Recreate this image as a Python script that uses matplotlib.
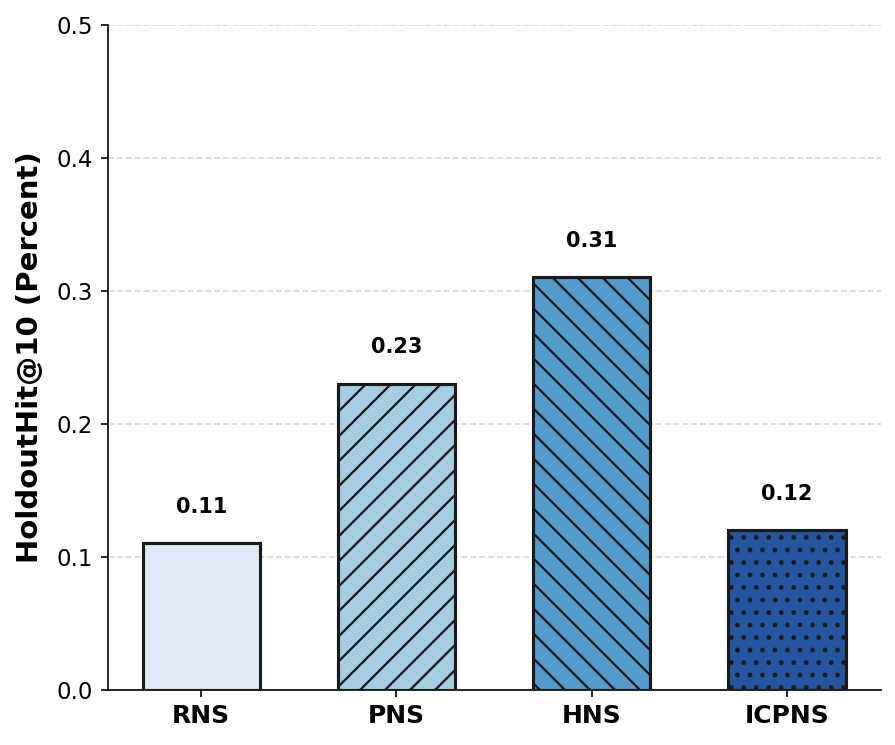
import matplotlib
matplotlib.use("Agg")
import matplotlib.pyplot as plt

categories = ["RNS", "PNS", "HNS", "ICPNS"]
values = [0.11, 0.23, 0.31, 0.12]
colors = ["#deebf7", "#a6cee3", "#529dcc", "#2455a0"]
hatches = ["", "//", "\\\\", ".."]

plt.rcParams['hatch.linewidth'] = 1.1
fig, ax = plt.subplots(figsize=(5.973, 4.967), dpi=150)
x = range(len(categories))
bars = ax.bar(x, values, width=0.6, color=colors, edgecolor="#1a1a1a", linewidth=1.5, zorder=3)
for b, h in zip(bars, hatches):
    b.set_hatch(h)
for xi, v in zip(x, values):
    ax.text(xi, v + 0.02, f"{v:.2f}", ha="center", va="bottom", fontsize=10, fontweight="bold")

ax.set_xticks(list(x))
ax.set_xticklabels(categories, fontsize=12, fontweight="bold")
ax.set_ylim(0, 0.5)
ax.set_yticks([0.0, 0.1, 0.2, 0.3, 0.4, 0.5])
ax.tick_params(axis='y', labelsize=11)
ax.set_ylabel("HoldoutHit@10 (Percent)", fontsize=14, fontweight="bold", labelpad=6)
ax.yaxis.grid(True, linestyle="--", color="#cccccc", alpha=0.8, zorder=0)
ax.set_axisbelow(True)
ax.spines['top'].set_visible(False)
ax.spines['right'].set_visible(False)
fig.subplots_adjust(left=0.12, right=0.983, top=0.967, bottom=0.074)
fig.savefig("out.png", dpi=150)
